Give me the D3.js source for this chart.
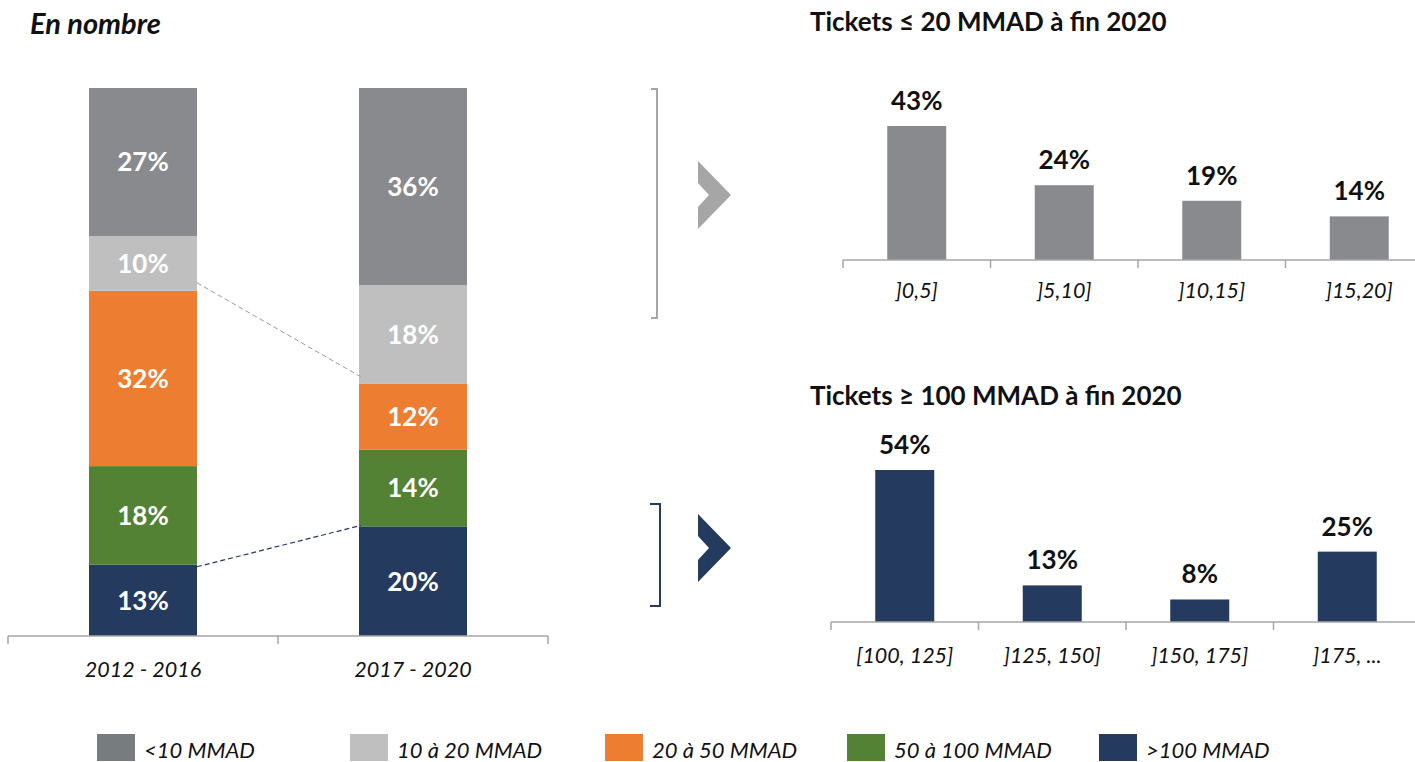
<!DOCTYPE html>
<html>
<head>
<meta charset="utf-8">
<script src="https://cdn.jsdelivr.net/npm/d3@7"></script>
<style>
  body { margin: 0; background: #fff; }
  svg { display: block; font-family: Lato, "Open Sans", sans-serif; }
</style>
</head>
<body>
<svg id="chart" width="1415" height="762"></svg>
<script>
// data
const periods = ["2012 - 2016", "2017 - 2020"];
const segments = ["<10 MMAD", "10 à 20 MMAD", "20 à 50 MMAD", "50 à 100 MMAD", ">100 MMAD"];
const share2012 = [27, 10, 32, 18, 13];
const share2017 = [36, 18, 12, 14, 20];

const smallTitle = "Tickets ≤ 20 MMAD à fin 2020";
const smallBins = ["]0,5]", "]5,10]", "]10,15]", "]15,20]"];
const smallValues = [43, 24, 19, 14];

const bigTitle = "Tickets ≥ 100 MMAD à fin 2020";
const bigBins = ["[100, 125]", "]125, 150]", "]150, 175]", "]175, ..."];
const bigValues = [54, 13, 8, 25];

const colors = ["#898a8e", "#bfbfbf", "#ed7d31", "#548235", "#243a5e"];
const legendColors = ["#777c7e", "#bfbfbf", "#ed7d31", "#548235", "#243a5e"];
const legendX = [97, 350, 605, 847, 1099];

const svg = d3.select("#chart");
const axisColor = "#a6a6a6";

// ---- left stacked chart ----
svg.append("text")
  .attr("x", 30).attr("y", 34)
  .attr("font-size", 29).attr("font-weight", "bold").attr("font-style", "italic")
  .attr("fill", "#111")
  .text("En nombre");

const left = { x0: 8, x1: 548, top: 88, base: 636 };
const xL = d3.scaleBand().domain(periods).range([left.x0, left.x1]).paddingInner(0.6).paddingOuter(0.3);
const yL = d3.scaleLinear().domain([0, 100]).range([left.base, left.top]);

const rows = periods.map((p, i) => {
  const vals = i === 0 ? share2012 : share2017;
  const r = { period: p };
  segments.forEach((s, j) => r[s] = vals[j]);
  return r;
});
// stack from bottom: >100 first
const stack = d3.stack().keys(segments.slice().reverse())(rows);

stack.forEach(layer => {
  const ci = segments.indexOf(layer.key);
  layer.forEach(d => {
    const x = xL(d.data.period);
    svg.append("rect")
      .attr("x", x).attr("width", xL.bandwidth())
      .attr("y", yL(d[1])).attr("height", yL(d[0]) - yL(d[1]))
      .attr("fill", colors[ci]);
    svg.append("text")
      .attr("x", x + xL.bandwidth() / 2)
      .attr("y", (yL(d[0]) + yL(d[1])) / 2)
      .attr("dy", "0.36em")
      .attr("text-anchor", "middle")
      .attr("font-size", 26).attr("font-weight", "bold").attr("fill", "#fff")
      .text((d[1] - d[0]) + "%");
  });
});

// connectors
const lay = key => stack.find(l => l.key === key);
const grey = lay("10 à 20 MMAD"), navy = lay(">100 MMAD");
svg.append("line")
  .attr("x1", xL(periods[0]) + xL.bandwidth()).attr("y1", yL(grey[0][0]) - 8)
  .attr("x2", xL(periods[1]) + 2).attr("y2", yL(grey[1][0]) - 7)
  .attr("stroke", "#9a9a9a").attr("stroke-width", 1).attr("stroke-dasharray", "5,3");
svg.append("line")
  .attr("x1", xL(periods[0]) + xL.bandwidth()).attr("y1", yL(navy[0][1]) + 2)
  .attr("x2", xL(periods[1]) + 2).attr("y2", yL(navy[1][1]) - 1)
  .attr("stroke", colors[4]).attr("stroke-width", 1.2).attr("stroke-dasharray", "5,3");

function drawAxis(x, y0, ticksAt, labelY, labels, fontSize) {
  svg.append("line")
    .attr("x1", x.range()[0]).attr("x2", x.range()[1])
    .attr("y1", y0).attr("y2", y0)
    .attr("stroke", axisColor).attr("stroke-width", 1.5);
  ticksAt.forEach(t => {
    svg.append("line")
      .attr("x1", t).attr("x2", t).attr("y1", y0).attr("y2", y0 + 8)
      .attr("stroke", axisColor).attr("stroke-width", 1.5);
  });
  labels.forEach(l => {
    svg.append("text")
      .attr("x", x(l) + x.bandwidth() / 2).attr("y", labelY)
      .attr("text-anchor", "middle")
      .attr("font-size", fontSize).attr("font-style", "italic").attr("fill", "#111")
      .text(l);
  });
}
const xLaxis = d3.scaleBand().domain(periods).range([left.x0, left.x1]);
drawAxis(xLaxis, left.base, xLaxis.domain().map(d => xLaxis(d)).concat([left.x1]), 677, periods, 21.5);

// ---- right column charts ----
function smallChart(title, titleY, bins, values, x0, axisY, maxH, fill, labelY) {
  svg.append("text")
    .attr("x", 810).attr("y", titleY)
    .attr("font-size", 26).attr("font-weight", "bold").attr("fill", "#111")
    .text(title);
  const step = 147.5;
  const xa = d3.scaleBand().domain(bins).range([x0, x0 + step * bins.length]);
  const xb = d3.scaleBand().domain(bins).range([x0, x0 + step * bins.length]).paddingInner(0.6).paddingOuter(0.3);
  const y = d3.scaleLinear().domain([0, d3.max(values)]).range([axisY, axisY - maxH]);
  bins.forEach((b, i) => {
    svg.append("rect")
      .attr("x", xb(b)).attr("width", xb.bandwidth())
      .attr("y", y(values[i])).attr("height", axisY - y(values[i]))
      .attr("fill", fill);
    svg.append("text")
      .attr("x", xb(b) + xb.bandwidth() / 2).attr("y", y(values[i]) - 16)
      .attr("text-anchor", "middle")
      .attr("font-size", 26).attr("font-weight", "bold").attr("fill", "#111")
      .text(values[i] + "%");
  });
  drawAxis(xa, axisY, bins.map(b => xa(b)), labelY, bins, 21.5);
}
smallChart(smallTitle, 31, smallBins, smallValues, 843, 260, 134, colors[0], 298);
smallChart(bigTitle, 405, bigBins, bigValues, 831, 622, 152, colors[4], 663);

// brackets and chevrons
function bracket(x, y0, y1, w, color) {
  svg.append("path")
    .attr("d", `M${x - w},${y0} H${x} V${y1} H${x - w}`)
    .attr("fill", "none").attr("stroke", color).attr("stroke-width", 2);
}
function chevron(cx, cy, color) {
  const h = 34, w = 33, n = 11, e = 12;
  svg.append("path")
    .attr("d", `M${cx},${cy - h} L${cx + w},${cy} L${cx},${cy + h} V${cy + e} L${cx + n},${cy} L${cx},${cy - e} Z`)
    .attr("fill", color);
}
bracket(657, 89, 318, 6, "#a6a6a6");
chevron(698, 195, "#a6a6a6");
bracket(660, 504, 606, 10, colors[4]);
chevron(698, 548, colors[4]);

// legend
segments.forEach((s, i) => {
  svg.append("rect")
    .attr("x", legendX[i]).attr("y", 734).attr("width", 38).attr("height", 27)
    .attr("fill", legendColors[i]);
  svg.append("text")
    .attr("x", legendX[i] + 47).attr("y", 758)
    .attr("font-size", 22).attr("font-style", "italic").attr("fill", "#111")
    .text(s);
});
</script>
</body>
</html>
